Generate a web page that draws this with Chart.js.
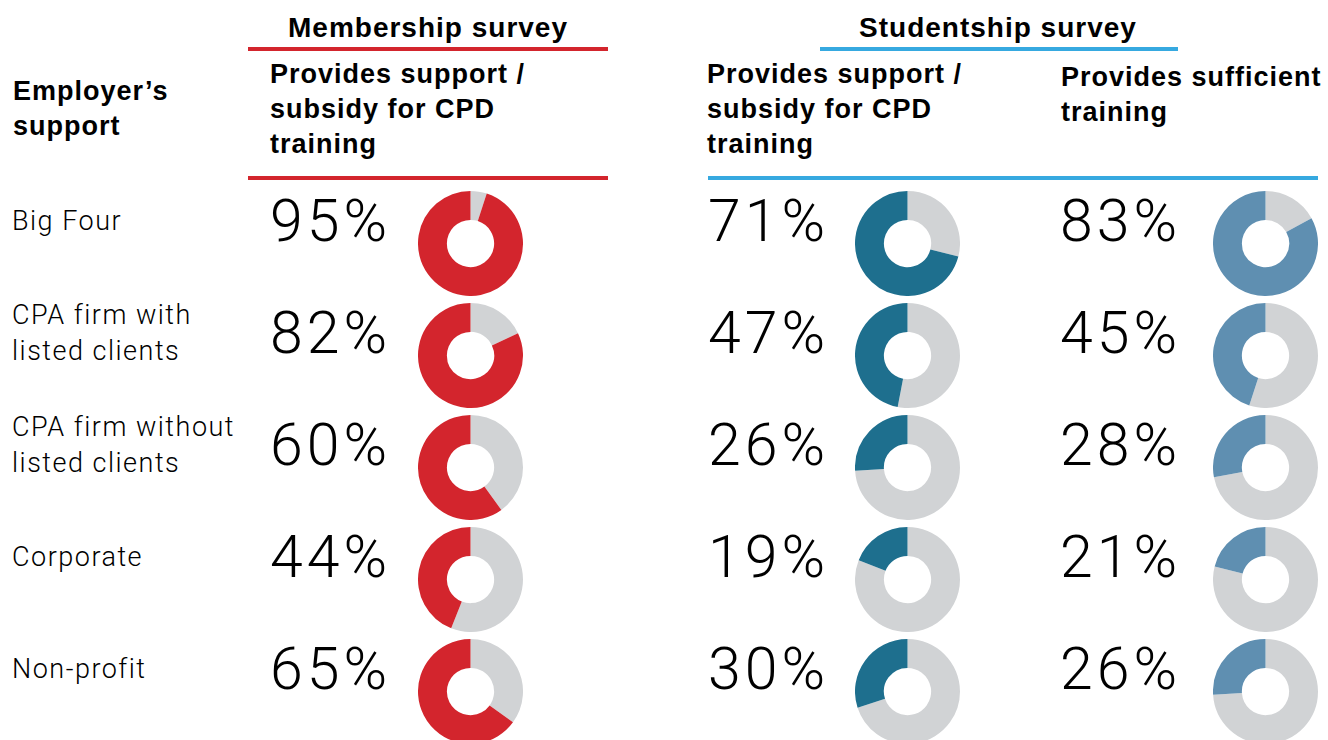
<!DOCTYPE html>
<html>
<head>
<meta charset="utf-8">
<script src="https://cdn.jsdelivr.net/npm/chart.js@4.4.1/dist/chart.umd.min.js"></script>
<style>
  html, body { margin: 0; padding: 0; background: #fff; }
  body { width: 1328px; height: 740px; overflow: hidden; position: relative; }
  .bold { position: absolute; font-family: "Liberation Sans", Arial, sans-serif; font-weight: bold; color: #000; letter-spacing: 1px; font-size: 27px; line-height: 35px; white-space: nowrap; }
  .light { position: absolute; font-family: "Roboto", sans-serif; font-weight: 300; color: #000; white-space: nowrap; transform: translateY(-50%); }
  .lbl { font-size: 27px; line-height: 36px; letter-spacing: 1.5px; }
  .pct { font-size: 59px; line-height: 58px; letter-spacing: 4px; }
  .rule { position: absolute; height: 4px; }
  .donut { position: absolute; }
</style>
</head>
<body>
<script>
// employer types, one row each
var categories = ['Big Four', 'CPA firm with\nlisted clients', 'CPA firm without\nlisted clients', 'Corporate', 'Non-profit'];
// % saying yes
var membershipSupport = [95, 82, 60, 44, 65];
var studentshipSupport = [71, 47, 26, 19, 30];
var studentshipTraining = [83, 45, 28, 21, 26];

var columns = [
  { data: membershipSupport, color: '#d3252d', textX: 270, cx: 470.5 },
  { data: studentshipSupport, color: '#1e6f8e', textX: 708, cx: 907 },
  { data: studentshipTraining, color: '#5f8fb1', textX: 1060, cx: 1265.5 }
];
var rowY = [243, 355, 467, 579, 691];
var grey = '#d1d3d5';
var R = 52.5;

function addDiv(cls, html, css) {
  var d = document.createElement('div');
  d.className = cls;
  d.innerHTML = html;
  for (var k in css) d.style[k] = css[k];
  document.body.appendChild(d);
  return d;
}

// headers
addDiv('bold', 'Membership survey', { left: '248px', width: '360px', textAlign: 'center', top: '10px', fontSize: '28px' });
addDiv('bold', 'Studentship survey', { left: '818px', width: '360px', textAlign: 'center', top: '10px', fontSize: '28px' });
addDiv('rule', '', { left: '248px', width: '360px', top: '47px', background: '#d3252d' });
addDiv('rule', '', { left: '820px', width: '358px', top: '47px', background: '#36a9e0' });
addDiv('rule', '', { left: '248px', width: '360px', top: '176px', background: '#d3252d' });
addDiv('rule', '', { left: '708px', width: '610px', top: '176px', background: '#36a9e0' });

addDiv('bold', 'Employer’s<br>support', { left: '13px', top: '74px' });
addDiv('bold', 'Provides support /<br>subsidy for CPD<br>training', { left: '270px', top: '57px' });
addDiv('bold', 'Provides support /<br>subsidy for CPD<br>training', { left: '707px', top: '57px' });
addDiv('bold', 'Provides sufficient<br>training', { left: '1061px', top: '60px' });

// row labels
categories.forEach(function (c, i) {
  addDiv('light lbl', c.replace('\n', '<br>'), { left: '12px', top: (rowY[i] - 22) + 'px' });
});

// percentages + donuts
columns.forEach(function (col, ci) {
  col.data.forEach(function (v, i) {
    addDiv('light pct', v + '%', { left: col.textX + 'px', top: (rowY[i] - 22) + 'px' });

    var wrap = document.createElement('div');
    wrap.className = 'donut';
    wrap.style.left = (col.cx - R) + 'px';
    wrap.style.top = (rowY[i] - R) + 'px';
    var cv = document.createElement('canvas');
    cv.width = R * 2;
    cv.height = R * 2;
    wrap.appendChild(cv);
    document.body.appendChild(wrap);

    new Chart(cv, {
      type: 'doughnut',
      data: {
        labels: ['No', 'Yes'],
        datasets: [{
          data: [100 - v, v],
          backgroundColor: [grey, col.color],
          borderWidth: 0
        }]
      },
      options: {
        responsive: false,
        animation: false,
        cutout: '45%',
        rotation: 0,
        layout: { padding: 0 },
        events: [],
        plugins: { legend: { display: false }, tooltip: { enabled: false } }
      }
    });
  });
});
</script>
</body>
</html>
